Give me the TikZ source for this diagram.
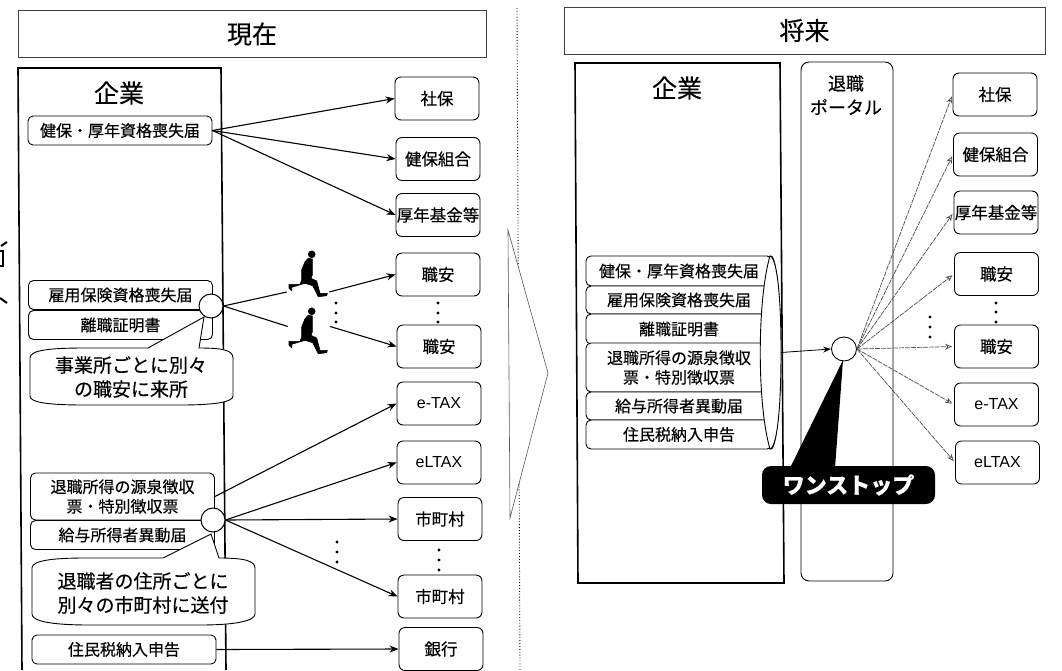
\documentclass[tikz,border=0pt]{standalone}
\usepackage{fontspec}
\setmainfont{Noto Sans CJK JP}[FakeBold=0.25]
\newfontfamily\latinfont{Liberation Sans}
\usetikzlibrary{arrows.meta,shapes.geometric}
\tikzset{
  titlebar/.style={draw=black!75,line width=0.7pt,fill=white,minimum height=47pt,font=\fontsize{25}{25}\selectfont},
  orgbox/.style={draw=black,line width=1.6pt},
  orgname/.style={font=\fontsize{25}{25}\selectfont},
  docbox/.style={draw=black,line width=0.9pt,fill=white,rounded corners=5pt,minimum width=184pt,minimum height=29pt,align=center,font=\fontsize{16}{19.5}\selectfont},
  agency/.style={draw=black,line width=0.9pt,fill=white,rounded corners=6pt,minimum width=84pt,minimum height=43pt,font=\fontsize{16.5}{16.5}\selectfont},
  taxname/.style={font=\latinfont\fontsize{16}{16}\selectfont},
  hub/.style={circle,draw=black,line width=1pt,fill=white,minimum size=24pt},
  bubble/.style={draw=black,line width=0.9pt,fill=white},
  bubbletext/.style={align=center,font=\fontsize{19}{24}\selectfont},
  arrow/.style={line width=1.1pt,-{Stealth[length=9pt,width=7pt]}},
  thinarrow/.style={draw=black!70,line width=0.7pt,dash pattern=on 5pt off 1pt,-{Stealth[open,length=7pt,width=6pt]}},
  runnergap/.style={minimum width=42pt,minimum height=3pt},
  runner/.pic={
    \fill (36.7,-9.3) circle (3.8);
    \filldraw [line width=0.6pt] (33.3,-13.3) -- (37.3,-14) -- (37.3,-30) -- (36,-33.3) -- (41.7,-36) -- (45,-48.3) -- (52.3,-48.3) -- (51.7,-50.7) -- (43.3,-51.7) -- (37.7,-40.7) -- (30,-38.3) -- (16.7,-42.3) -- (16.7,-45.7) -- (14,-43.3) -- (14,-39.3) -- (25,-39.3) -- (26.7,-35) -- (26.7,-25) -- (30,-16.7) -- cycle;
  }
}
\begin{document}
\begin{tikzpicture}[x=1pt,y=1pt]
\tikzstyle{every node}+=[inner sep=0pt]
\useasboundingbox (0,0) rectangle (1062,-670);
% cut off marks at the left edge
\draw [line width=2pt] (1,-246) -- (7,-242);
\draw [line width=1.5pt] (0,-251) -- (3,-251) -- (3,-266) -- (0,-266);
\draw [line width=2pt] (0,-298) -- (7,-303);
% divider and big arrow
\draw [black,dotted,line width=0.9pt] (517,-8) -- (520,-670);
\draw [fill=white,draw=black!65,line width=0.6pt] (508,-230) -- (548,-373) -- (510,-518) -- cycle;
% now
\node [titlebar,minimum width=468pt] (nowtitle) at (252,-34) {現在};
\draw [orgbox] (22,-670) -- (18,-68) -- (221,-68) -- (226,-670);
\node [orgname] (noworg) at (119,-93) {企業};
\node [docbox] (kenpo) at (120,-130.5) {健保・厚年資格喪失届};
\node [docbox] (koyou) at (120.5,-295) {雇用保険資格喪失届};
\node [docbox] (rishoku) at (120.5,-325) {離職証明書};
\node [docbox,minimum height=47pt] (taishoku) at (122.5,-496.5) {退職所得の源泉徴収\\票・特別徴収票};
\node [docbox] (kyuyo) at (122.5,-535) {給与所得者異動届};
\node [docbox] (juumin) at (124,-649.5) {住民税納入申告};
\node [agency] (shaho) at (437,-98.5) {社保};
\node [agency] (kumiai) at (438,-159) {健保組合};
\node [agency] (kikin) at (438,-215) {厚年基金等};
\node [agency] (anteiA) at (438,-274.5) {職安};
\node [agency] (anteiB) at (439,-346.5) {職安};
\node [agency,taxname] (etax) at (439,-403.5) {e-TAX};
\node [agency,taxname] (eltax) at (439,-462.5) {eLTAX};
\node [agency] (cityA) at (440,-519) {市町村};
\node [agency] (cityB) at (440,-596.5) {市町村};
\node [agency] (bank) at (441,-649) {銀行};
\draw [arrow] (kenpo.east) -- (shaho.west);
\draw [arrow] (kenpo.east) -- (kumiai.west);
\draw [arrow] (kenpo.east) -- (kikin.west);
\node [hub] (hubjob) at (211,-306) {};
\node [runnergap] (gapA) at (308,-292) {};
\node [runnergap] (gapB) at (309,-326.5) {};
\pic at (275,-245) {runner};
\pic at (275,-302) {runner};
\draw [line width=1.1pt] (hubjob.east) -- (gapA.west);
\draw [arrow] (gapA.east) -- (anteiA.west);
\draw [line width=1.1pt] (hubjob.east) -- (gapB.west);
\draw [arrow] (gapB.east) -- (anteiB.west);
\node [hub] (hubcity) at (213,-520) {};
\draw [arrow] (taishoku.east) -- (etax.west);
\draw [arrow] (hubcity.east) -- (eltax.west);
\draw [arrow] (hubcity.east) -- (cityA.west);
\draw [arrow] (hubcity.east) -- (cityB.west);
\draw [arrow] (juumin.east) -- (bank.west);
\draw [bubble] (148,-348) -- (204,-317) -- (199,-348) .. controls (222,-348) and (233,-350) .. (233,-358) -- (233,-396) .. controls (233,-402) and (215,-405) .. (180,-405) -- (85,-405) .. controls (45,-405) and (30,-402) .. (30,-396) -- (30,-358) .. controls (30,-350) and (50,-348) .. (85,-348) -- cycle;
\node [bubbletext] (jobnote) at (131,-377) {事業所ごとに別々\\の職安に来所};
\draw [bubble] (163,-558) -- (211,-534) -- (219,-558) .. controls (245,-558) and (255,-561) .. (255,-568) -- (255,-614) .. controls (255,-621) and (235,-625) .. (200,-625) -- (90,-625) .. controls (50,-625) and (32,-621) .. (32,-614) -- (32,-568) .. controls (32,-561) and (50,-558) .. (85,-558) -- cycle;
\node [bubbletext] (citynote) at (143,-593) {退職者の住所ごとに\\別々の市町村に送付};
\foreach \y in {303,313,322} \fill (336,-\y) circle (1.6);
\foreach \y in {303,313,322} \fill (438,-\y) circle (1.6);
\foreach \y in {542,552,562} \fill (337,-\y) circle (1.6);
\foreach \y in {550,560,570} \fill (439,-\y) circle (1.6);
% future
\node [titlebar,minimum width=481pt] (futuretitle) at (804.5,-30.5) {将来};
\draw [orgbox] (578,-583) -- (575,-63) -- (780,-63) -- (784,-583) -- cycle;
\node [orgname] (futureorg) at (677,-88) {企業};
\node [draw=black,line width=0.9pt,rounded corners=8pt,minimum width=92pt,minimum height=519pt] (portal) at (847,-321.5) {};
\node [font=\fontsize{18}{24}\selectfont,align=center] (portalname) at (846,-95) {退職\\ポータル};
\node [ellipse,draw=black,line width=0.9pt,fill=white,minimum width=19pt,minimum height=193pt] (scrollend) at (771,-352.5) {};
\node [docbox,minimum width=186pt,minimum height=30pt] (stackA) at (679,-271) {健保・厚年資格喪失届};
\node [docbox,minimum width=186pt,minimum height=28pt] (stackB) at (679,-300) {雇用保険資格喪失届};
\node [docbox,minimum width=186pt,minimum height=30pt] (stackC) at (679,-329) {離職証明書};
\node [docbox,minimum width=186pt,minimum height=49pt] (stackD) at (679,-367.5) {退職所得の源泉徴収\\票・特別徴収票};
\node [docbox,minimum width=186pt,minimum height=28pt] (stackE) at (679,-406) {給与所得者異動届};
\node [docbox,minimum width=186pt,minimum height=29pt] (stackF) at (679,-434.5) {住民税納入申告};
\draw [line width=0.9pt,fill=white] (770,-256) .. controls (757,-300) and (757,-405) .. (770,-449) .. controls (774,-449) and (781,-430) .. (781,-352) .. controls (781,-275) and (774,-256) .. (770,-256) -- cycle;
\node [agency] (shahoF) at (995,-94.5) {社保};
\node [agency] (kumiaiF) at (995.5,-154.5) {健保組合};
\node [agency] (kikinF) at (996,-212.5) {厚年基金等};
\node [agency] (anteiFA) at (996.5,-274) {職安};
\node [agency] (anteiFB) at (996.5,-346.5) {職安};
\node [agency,taxname] (etaxF) at (996.5,-404.5) {e-TAX};
\node [agency,taxname] (eltaxF) at (997.5,-462.5) {eLTAX};
\node [ellipse,draw=black,line width=0.9pt,fill=white,minimum width=25pt,minimum height=24pt] (hubone) at (844,-349) {};
\draw [line width=0.8pt,-{Stealth[length=8pt,width=6pt]}] (scrollend.east) -- (hubone.west);
\foreach \target in {shahoF,kumiaiF,kikinF,anteiFA,anteiFB,etaxF,eltaxF}
  \draw [thinarrow,shorten >=2pt] (hubone.east) -- (\target.west);
\foreach \y in {317,327,337} \fill (930,-\y) circle (1.6);
\foreach \y in {303,312,322} \fill (996,-\y) circle (1.6);
\fill (843,-360) -- (790,-468) -- (835,-468) -- cycle;
\node [fill=black,rounded corners=9pt,minimum width=173pt,minimum height=38pt,text=white,font=\fontsize{22}{22}\bfseries\selectfont] (onestop) at (848.5,-485) {ワンストップ};
\end{tikzpicture}
\end{document}
